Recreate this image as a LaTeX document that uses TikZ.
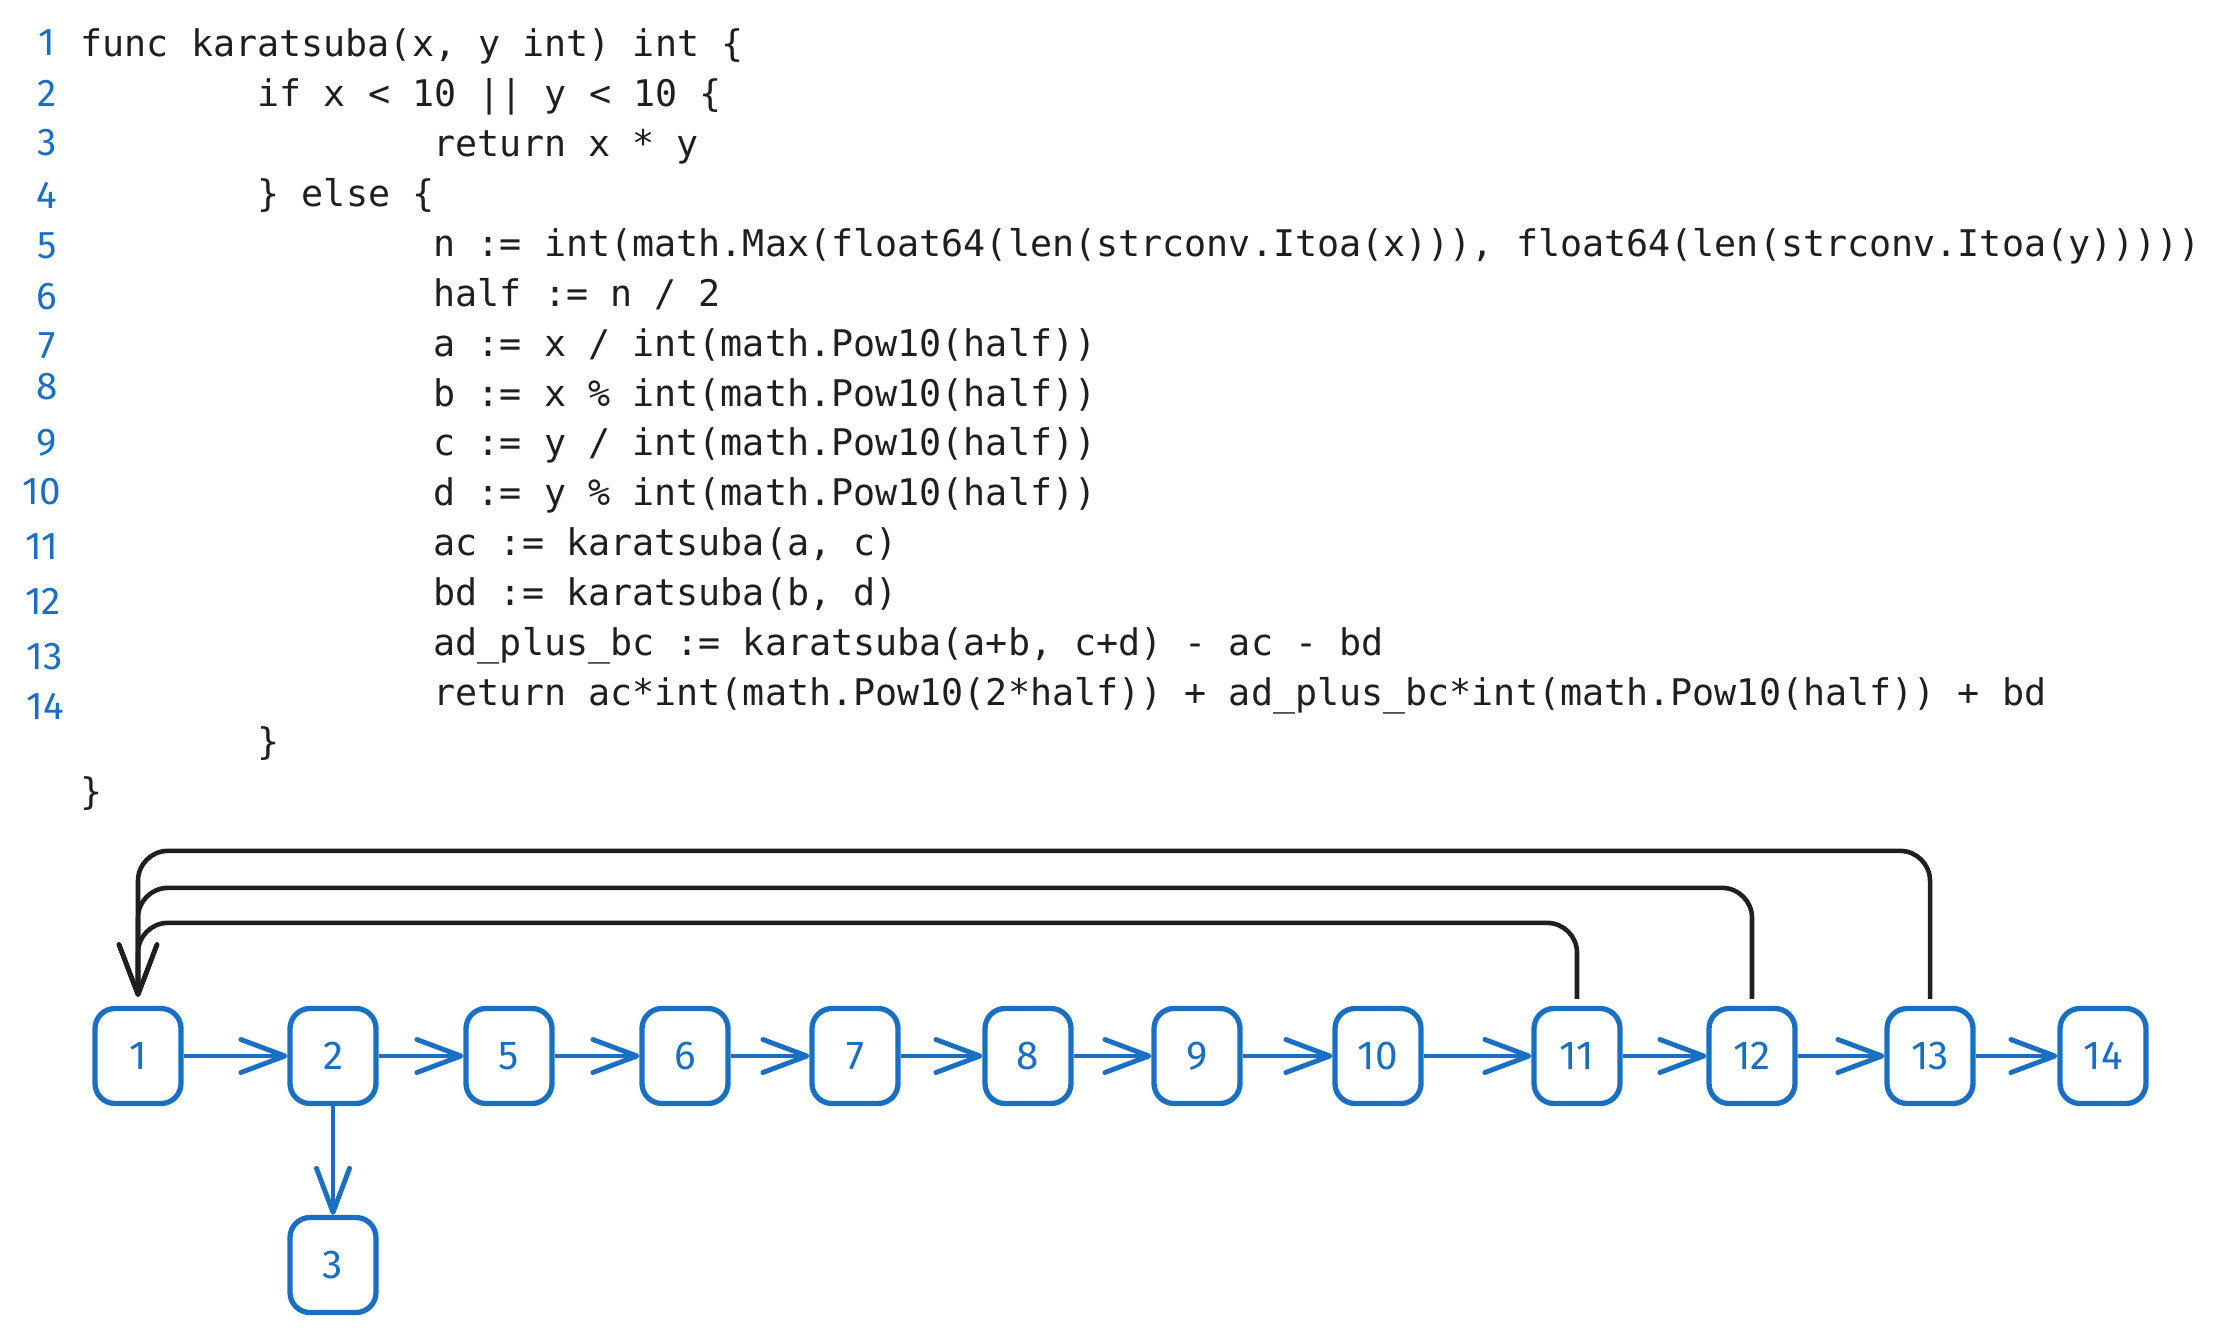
\documentclass[tikz,border=0pt]{standalone}
\usepackage{fontspec}
\usepackage{tikz}
\usetikzlibrary{arrows.meta}
\newfontfamily\codefont{DejaVu Sans Mono}
\newfontfamily\handfont{Fira Sans}
\definecolor{cblue}{rgb}{0.1, 0.44, 0.76}
\definecolor{cdark}{rgb}{0.12, 0.12, 0.12}

\begin{document}
\frenchspacing
\begin{tikzpicture}[
    code/.style={anchor=base west, inner sep=0, text=cdark, font=\codefont\fontsize{10.44pt}{12pt}\selectfont},
    lnum/.style={inner sep=0, text=cblue, font=\handfont\fontsize{11pt}{12pt}\selectfont},
    blk/.style={draw=cblue, line width=1.5pt, rounded corners=2mm, fill=white, minimum width=8.6mm, minimum height=9.5mm, inner sep=0, text=cblue, font=\handfont\fontsize{11.5pt}{12pt}\selectfont},
    flow/.style={cblue, line width=1.4pt, -{Straight Barb[length=4.4mm, width=3.3mm, round]}},
    back/.style={cdark, line width=1.3pt, rounded corners=3mm, shorten <=0.7mm, shorten >=0.9mm, -{Straight Barb[length=5mm, width=3.8mm, round]}}
  ]
    \useasboundingbox (0, 0) rectangle (22.15, -13.31);

    \node [lnum] (ln1) at (0.47, -0.43) {1};
    \node [lnum] (ln2) at (0.47, -0.93) {2};
    \node [lnum] (ln3) at (0.47, -1.43) {3};
    \node [lnum] (ln4) at (0.47, -1.95) {4};
    \node [lnum] (ln5) at (0.47, -2.46) {5};
    \node [lnum] (ln6) at (0.47, -2.97) {6};
    \node [lnum] (ln7) at (0.47, -3.46) {7};
    \node [lnum] (ln8) at (0.47, -3.87) {8};
    \node [lnum] (ln9) at (0.47, -4.43) {9};
    \node [lnum] (ln10) at (0.42, -4.92) {10};
    \node [lnum] (ln11) at (0.42, -5.47) {11};
    \node [lnum] (ln12) at (0.43, -6.01) {12};
    \node [lnum] (ln13) at (0.45, -6.57) {13};
    \node [lnum] (ln14) at (0.45, -7.06) {14};

    \node [code] (l1) at (0.80, -0.570) {func karatsuba(x, y int) int \{};
    \node [code] (l2) at (2.57, -1.069) {if x < 10 || y < 10 \{};
    \node [code] (l3) at (4.33, -1.567) {return x * y};
    \node [code] (l4) at (2.57, -2.066) {\} else \{};
    \node [code] (l5) at (4.33, -2.564) {n := int(math.Max(float64(len(strconv.Itoa(x))), float64(len(strconv.Itoa(y)))))};
    \node [code] (l6) at (4.33, -3.063) {half := n / 2};
    \node [code] (l7) at (4.33, -3.561) {a := x / int(math.Pow10(half))};
    \node [code] (l8) at (4.33, -4.060) {b := x \% int(math.Pow10(half))};
    \node [code] (l9) at (4.33, -4.558) {c := y / int(math.Pow10(half))};
    \node [code] (l10) at (4.33, -5.057) {d := y \% int(math.Pow10(half))};
    \node [code] (l11) at (4.33, -5.555) {ac := karatsuba(a, c)};
    \node [code] (l12) at (4.33, -6.054) {bd := karatsuba(b, d)};
    \node [code] (l13) at (4.33, -6.552) {ad\_plus\_bc := karatsuba(a+b, c+d) - ac - bd};
    \node [code] (l14) at (4.33, -7.051) {return ac*int(math.Pow10(2*half)) + ad\_plus\_bc*int(math.Pow10(half)) + bd};
    \node [code] (l15) at (2.57, -7.549) {\}};
    \node [code] (l16) at (0.80, -8.048) {\}};

    \node [blk] (n1) at (1.38, -10.56) {1};
    \node [blk] (n2) at (3.33, -10.56) {2};
    \node [blk] (n3) at (3.33, -12.65) {3};
    \node [blk] (n5) at (5.09, -10.56) {5};
    \node [blk] (n6) at (6.85, -10.56) {6};
    \node [blk] (n7) at (8.55, -10.56) {7};
    \node [blk] (n8) at (10.28, -10.56) {8};
    \node [blk] (n9) at (11.97, -10.56) {9};
    \node [blk] (n10) at (13.78, -10.56) {10};
    \node [blk] (n11) at (15.77, -10.56) {11};
    \node [blk] (n12) at (17.52, -10.56) {12};
    \node [blk] (n13) at (19.30, -10.56) {13};
    \node [blk] (n14) at (21.03, -10.56) {14};

    \draw [flow] (n1) -- (n2);
    \draw [flow] (n2) -- (n5);
    \draw [flow] (n2) -- (n3);
    \draw [flow] (n5) -- (n6);
    \draw [flow] (n6) -- (n7);
    \draw [flow] (n7) -- (n8);
    \draw [flow] (n8) -- (n9);
    \draw [flow] (n9) -- (n10);
    \draw [flow] (n10) -- (n11);
    \draw [flow] (n11) -- (n12);
    \draw [flow] (n12) -- (n13);
    \draw [flow] (n13) -- (n14);

    \draw [back] (n11.north) -- ++(0, 0.83) -| (n1.north);
    \draw [back] (n12.north) -- ++(0, 1.18) -| (n1.north);
    \draw [back] (n13.north) -- ++(0, 1.55) -| (n1.north);
  \end{tikzpicture}
\end{document}
